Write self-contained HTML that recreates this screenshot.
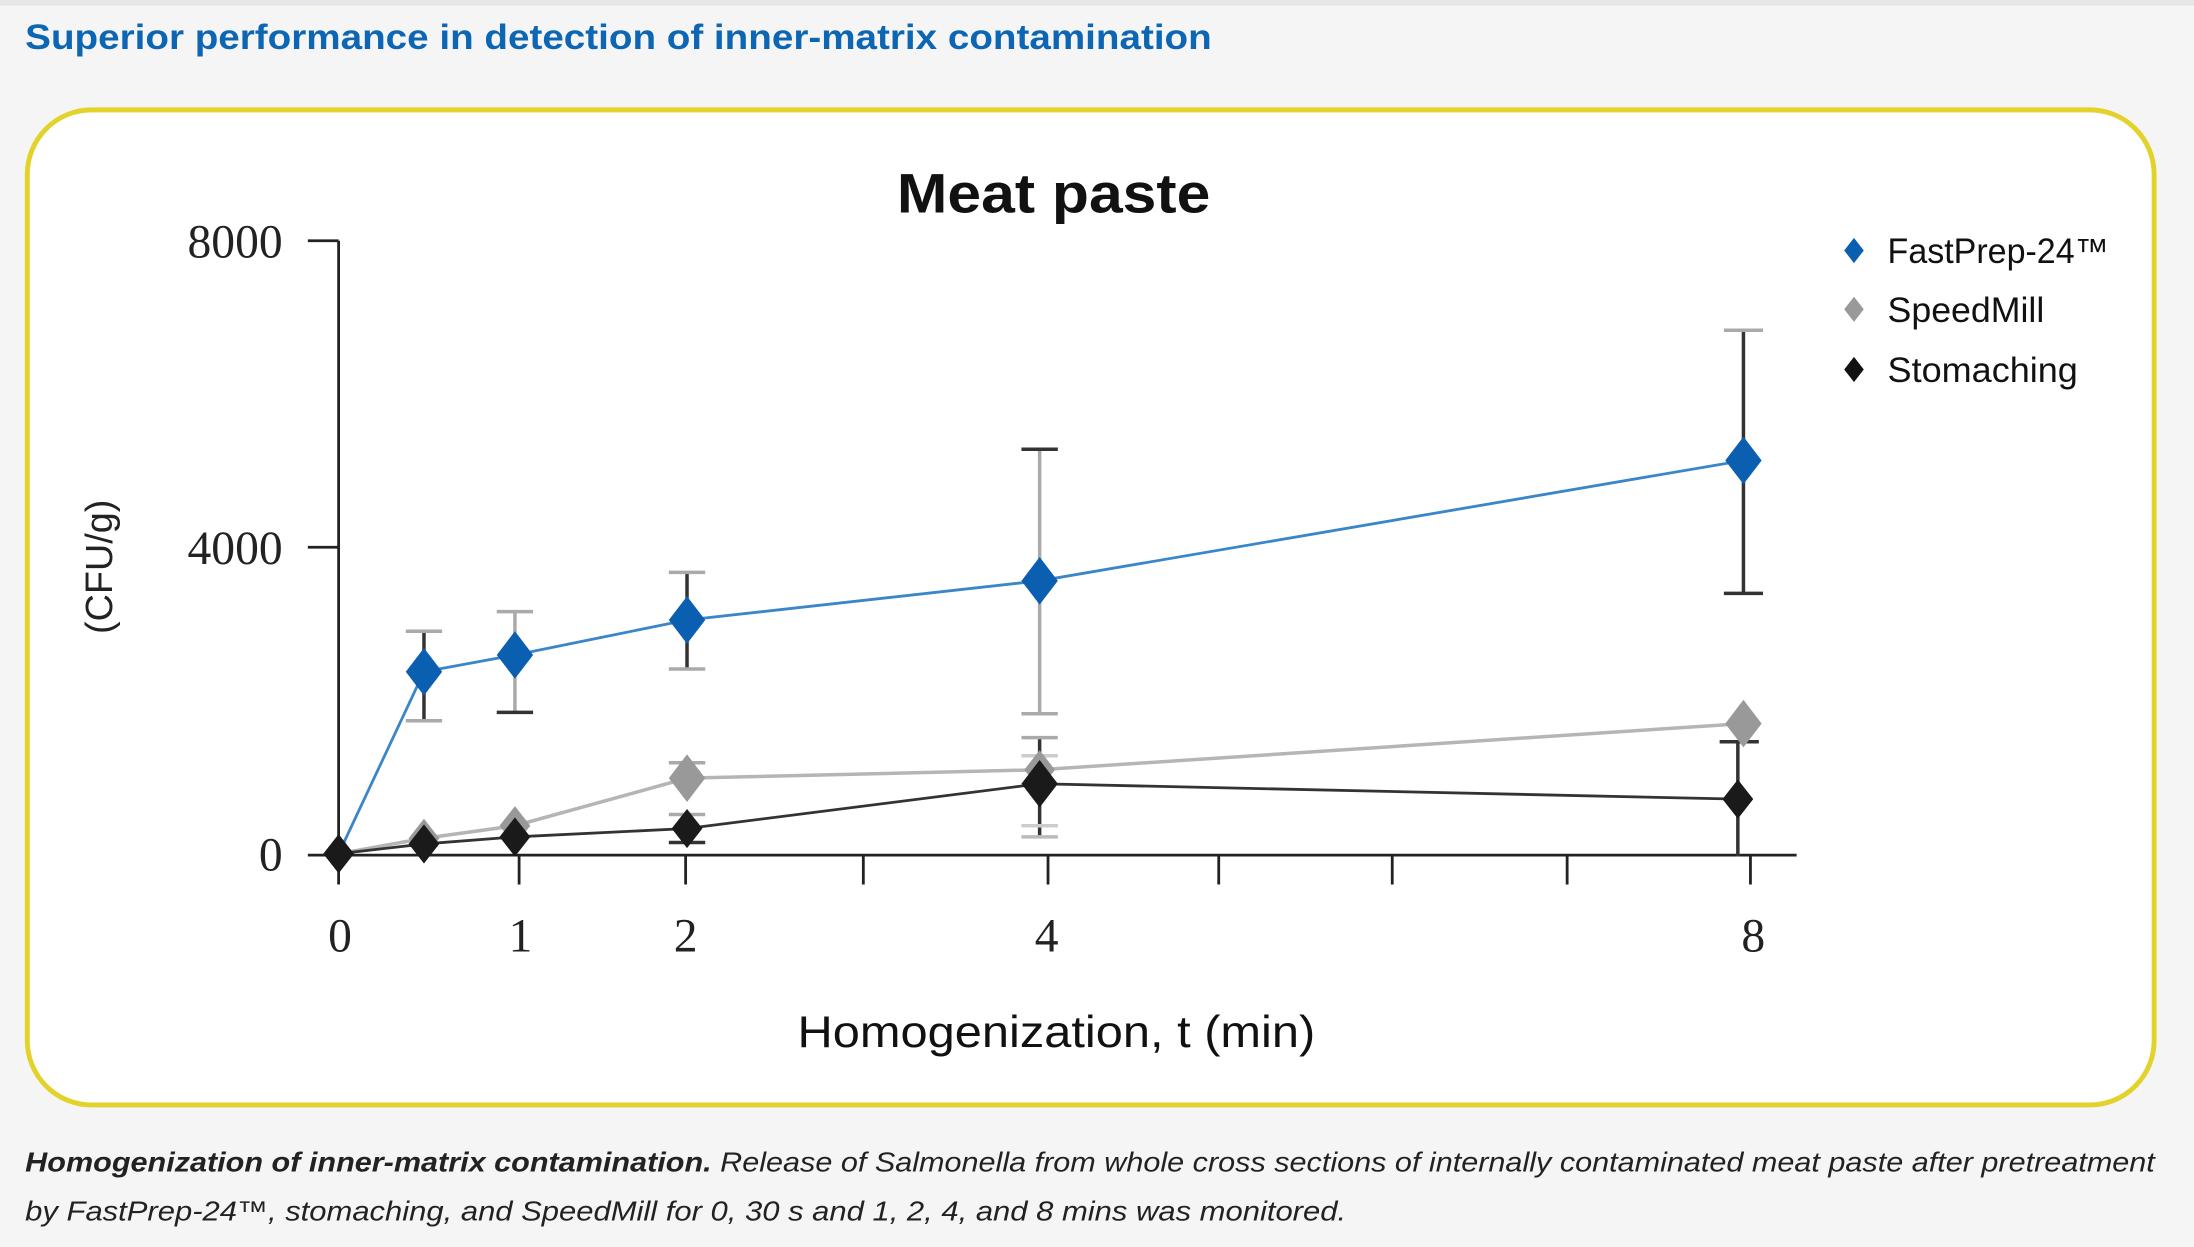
<!DOCTYPE html>
<html><head><meta charset="utf-8"><style>
html,body{margin:0;padding:0;background:#f5f5f5;}
svg{display:block;}
</style></head><body>
<svg width="2194" height="1247" viewBox="0 0 1568 891" preserveAspectRatio="none" xmlns="http://www.w3.org/2000/svg">
<rect x="0" y="0" width="1568" height="891" fill="#f5f5f5"/>
<rect x="0" y="0" width="1568" height="4" fill="#e6e6e6"/>
<text x="18" y="35" font-family="Liberation Sans, sans-serif" font-weight="bold" font-size="25" fill="#0d66b3" textLength="848" lengthAdjust="spacingAndGlyphs">Superior performance in detection of inner-matrix contamination</text>
<rect x="19.5" y="78.5" width="1520" height="711" rx="46" ry="46" fill="#fff" stroke="#e3d229" stroke-width="3.5"/>
<text x="753" y="152" text-anchor="middle" font-family="Liberation Sans, sans-serif" font-weight="bold" font-size="40" fill="#111" textLength="224" lengthAdjust="spacingAndGlyphs">Meat paste</text>
<!-- axes -->
<g stroke="#222" stroke-width="2" fill="none">
<line x1="242" y1="172" x2="242" y2="611"/>
<line x1="220" y1="172" x2="242" y2="172"/>
<line x1="220" y1="391" x2="242" y2="391"/>
<line x1="220" y1="611" x2="1284" y2="611"/>
<line x1="242" y1="611" x2="242" y2="632"/>
<line x1="371" y1="611" x2="371" y2="632"/>
<line x1="490" y1="611" x2="490" y2="632"/>
<line x1="617" y1="611" x2="617" y2="632"/>
<line x1="749" y1="611" x2="749" y2="632"/>
<line x1="871" y1="611" x2="871" y2="632"/>
<line x1="995" y1="611" x2="995" y2="632"/>
<line x1="1120" y1="611" x2="1120" y2="632"/>
<line x1="1251" y1="611" x2="1251" y2="632"/>
</g>
<g font-family="Liberation Serif, serif" font-size="34" fill="#222">
<text x="202" y="184" text-anchor="end">8000</text>
<text x="202" y="403" text-anchor="end">4000</text>
<text x="202" y="622" text-anchor="end">0</text>
<g text-anchor="middle">
<text x="243" y="680">0</text><text x="372" y="680">1</text><text x="490" y="680">2</text><text x="748" y="680">4</text><text x="1253" y="680">8</text>
</g>
</g>
<text transform="translate(80,405) rotate(-90)" text-anchor="middle" font-family="Liberation Sans, sans-serif" font-size="27" fill="#222">(CFU/g)</text>
<text x="755" y="748" text-anchor="middle" font-family="Liberation Sans, sans-serif" font-size="32" fill="#111" textLength="370" lengthAdjust="spacingAndGlyphs">Homogenization, t (min)</text>
<!-- error bars -->
<g stroke-width="2.5">
<g stroke="#333">
<line x1="303" y1="451" x2="303" y2="515"/><line x1="290" y1="451" x2="316" y2="451" stroke="#aaa"/><line x1="290" y1="515" x2="316" y2="515" stroke="#aaa"/>
<line x1="368" y1="437" x2="368" y2="509" stroke="#aaa"/><line x1="355" y1="437" x2="381" y2="437" stroke="#aaa"/><line x1="355" y1="509" x2="381" y2="509"/>
<line x1="491" y1="409" x2="491" y2="478"/><line x1="478" y1="409" x2="504" y2="409" stroke="#aaa"/><line x1="478" y1="478" x2="504" y2="478" stroke="#aaa"/>
<line x1="743" y1="321" x2="743" y2="510" stroke="#aaa"/><line x1="730" y1="321" x2="756" y2="321"/><line x1="730" y1="510" x2="756" y2="510" stroke="#aaa"/>
<line x1="1246" y1="236" x2="1246" y2="424"/><line x1="1232" y1="236" x2="1260" y2="236" stroke="#aaa"/><line x1="1232" y1="424" x2="1260" y2="424"/>
<line x1="743" y1="527" x2="743" y2="598"/><line x1="730" y1="527" x2="756" y2="527" stroke="#aaa"/><line x1="730" y1="598" x2="756" y2="598" stroke="#bbb"/>
<line x1="730" y1="540" x2="756" y2="540" stroke="#ccc"/><line x1="730" y1="590" x2="756" y2="590" stroke="#ccc"/>
<line x1="1242" y1="530" x2="1242" y2="612"/><line x1="1229" y1="530" x2="1257" y2="530"/>
<line x1="478" y1="545" x2="504" y2="545" stroke="#aaa"/><line x1="478" y1="582" x2="504" y2="582" stroke="#aaa"/><line x1="478" y1="602" x2="504" y2="602"/>
</g>
</g>
<!-- lines -->
<polyline points="242,610 303,599 368,590 491,556 743,550 1246,517" fill="none" stroke="#b5b5b5" stroke-width="2.5"/>
<polyline points="242,610 303,603 368,598 491,592 743,560 1242,571" fill="none" stroke="#333" stroke-width="2"/>
<polyline points="242,610 303,480 368,468 491,443 743,415 1246,329" fill="none" stroke="#3a86c8" stroke-width="2"/>
<!-- markers -->
<defs>
<path id="d" d="M0,-17 L13,0 L0,17 L-13,0 Z"/>
<path id="ds" d="M0,-14 L11,0 L0,14 L-11,0 Z"/>
</defs>
<g fill="#999">
<use href="#ds" x="303" y="599"/><use href="#ds" x="368" y="590"/><use href="#d" x="491" y="556"/><use href="#ds" x="743" y="550"/><use href="#d" x="1246" y="517"/>
</g>
<g fill="#1a1a1a">
<use href="#ds" x="242" y="610"/><use href="#ds" x="303" y="603"/><use href="#ds" x="368" y="598"/><use href="#ds" x="491" y="592"/><use href="#d" x="743" y="560"/><use href="#ds" x="1242" y="571"/>
</g>
<g fill="#0a5fb0">
<use href="#d" x="303" y="480"/><use href="#d" x="368" y="468"/><use href="#d" x="491" y="443"/><use href="#d" x="743" y="415"/><use href="#d" x="1246" y="329"/>
</g>
<!-- legend -->
<path d="M1325,170 L1332,179 L1325,188 L1318,179 Z" fill="#0a5fb0"/>
<path d="M1325,212 L1332,221 L1325,230 L1318,221 Z" fill="#999"/>
<path d="M1325,255 L1332,264 L1325,273 L1318,264 Z" fill="#111"/>
<g font-family="Liberation Sans, sans-serif" font-size="25" fill="#111">
<text x="1349" y="188" textLength="158" lengthAdjust="spacingAndGlyphs">FastPrep-24™</text>
<text x="1349" y="230" textLength="112" lengthAdjust="spacingAndGlyphs">SpeedMill</text>
<text x="1349" y="273" textLength="136" lengthAdjust="spacingAndGlyphs">Stomaching</text>
</g>
<!-- caption -->
<g font-family="Liberation Sans, sans-serif" font-size="20" font-style="italic" fill="#222">
<text x="18" y="837" textLength="1522" lengthAdjust="spacingAndGlyphs"><tspan font-weight="bold">Homogenization of inner-matrix contamination.</tspan> Release of Salmonella from whole cross sections of internally contaminated meat paste after pretreatment</text>
<text x="18" y="872" textLength="944" lengthAdjust="spacingAndGlyphs">by FastPrep-24™, stomaching, and SpeedMill for 0, 30 s and 1, 2, 4, and 8 mins was monitored.</text>
</g>
</svg>
</body></html>
